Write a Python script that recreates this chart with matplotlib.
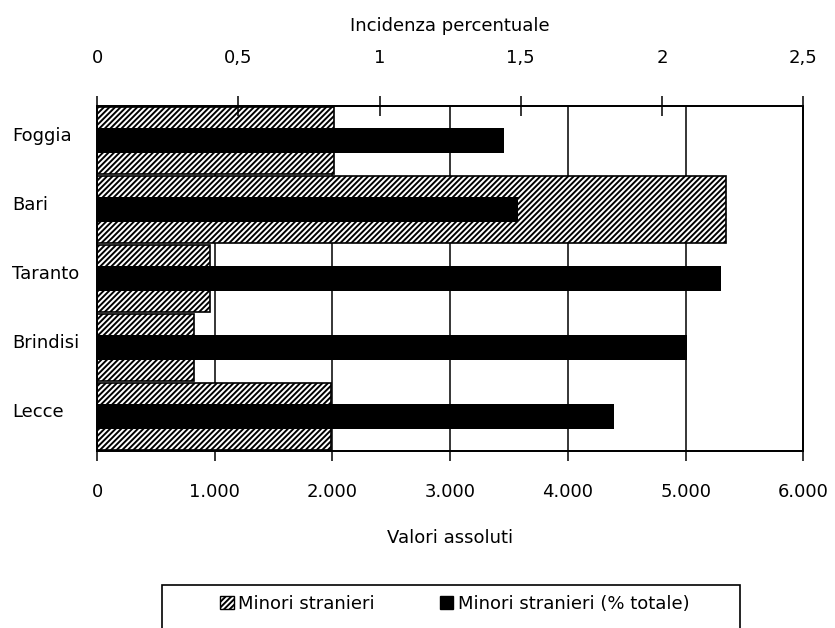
import numpy as np
import matplotlib
matplotlib.use("Agg")
import matplotlib.pyplot as plt
import matplotlib.transforms as mtransforms
from matplotlib.patches import Patch, Rectangle

# dati
province = ["Foggia", "Bari", "Taranto", "Brindisi", "Lecce"]
valori_assoluti = [2010, 5340, 958, 823, 1985]
incidenza = [1.44, 1.49, 2.21, 2.09, 1.83]

x_ticks_bottom = [0, 1000, 2000, 3000, 4000, 5000, 6000]
x_ticks_top = [0, 0.5, 1, 1.5, 2, 2.5]

plt.rcParams['font.family'] = ['DejaVu Sans']
plt.rcParams['hatch.linewidth'] = 1.4
FS = 13

fig = plt.figure(figsize=(8.35, 6.28), dpi=100)
ax = fig.add_axes([0.1162, 0.2818, 0.962 - 0.1162, 0.8312 - 0.2818])

y = np.arange(len(province))

# barre tratteggiate (valori assoluti)
ax.barh(y, valori_assoluti, height=0.97, color="white", edgecolor="black",
        hatch="//////", linewidth=1.2, zorder=2)
ax.set_xlim(0, 6000)
ax.set_ylim(len(province) - 0.5, -0.5)
ax.set_xticks(x_ticks_bottom)
ax.set_xticklabels([f"{v:,}".replace(",", ".") for v in x_ticks_bottom], fontsize=FS)
ax.xaxis.grid(True, color="black", linewidth=1.1, zorder=0)
ax.set_axisbelow(True)
ax.tick_params(axis="x", direction="out", length=7, width=1.1, pad=16)
ax.set_xlabel("Valori assoluti", fontsize=FS, labelpad=20)

ax.set_yticks(y)
ax.set_yticklabels(province, fontsize=FS, ha="left")
ax.tick_params(axis="y", length=0, pad=61)
offset = mtransforms.ScaledTranslation(0, 5 / 72, fig.dpi_scale_trans)
for lab in ax.get_yticklabels():
    lab.set_transform(lab.get_transform() + offset)

for s in ax.spines.values():
    s.set_color("black")
    s.set_linewidth(1.3)

# barre nere (incidenza percentuale)
ax2 = ax.twiny()
ax2.barh(y, incidenza, height=0.37, color="black", zorder=3)
ax2.set_xlim(0, 2.5)
ax2.set_xticks(x_ticks_top)
ax2.set_xticklabels([("%g" % v).replace(".", ",") for v in x_ticks_top], fontsize=FS)
ax2.tick_params(axis="x", direction="inout", length=14, width=1.1, pad=21)
ax2.set_xlabel("Incidenza percentuale", fontsize=FS, labelpad=13)
for s in ax2.spines.values():
    s.set_color("black")
    s.set_linewidth(1.3)

# riquadro legenda
W, H = 835, 628
fig.patches.append(Rectangle((162 / W, -0.05), (740 - 162) / W, (H - 585) / H + 0.05,
                             transform=fig.transFigure, facecolor="white",
                             edgecolor="black", linewidth=1.2, clip_on=False))
handles = [Patch(facecolor="white", edgecolor="black", hatch="//////", label="Minori stranieri"),
           Patch(facecolor="black", edgecolor="black", label="Minori stranieri (% totale)")]
leg = fig.legend(handles=handles, loc="center left", bbox_to_anchor=(220 / W, 1 - 604 / H),
                 ncol=2, fontsize=FS, frameon=False, borderpad=0, borderaxespad=0,
                 handlelength=0.75, handleheight=0.75, handletextpad=0.25,
                 columnspacing=3.6)

fig.savefig("out.png", dpi=100)
